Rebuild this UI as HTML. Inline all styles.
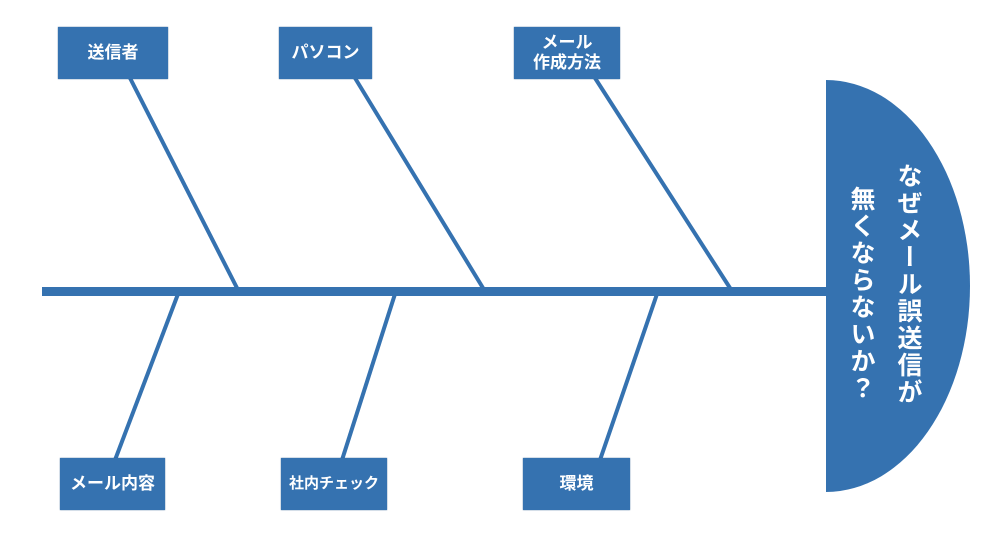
<!DOCTYPE html>
<html><head><meta charset="utf-8"><style>
body{margin:0;background:#fff;width:1000px;height:556px;position:relative;overflow:hidden;font-family:"Liberation Sans","Noto Sans CJK JP",sans-serif;}
.b{position:absolute;background:#3572b0;color:#fff;font-weight:bold;font-size:17px;display:flex;align-items:center;justify-content:center;text-align:center;line-height:20px;box-shadow:0 0 1px #24558a;}
.v{position:absolute;writing-mode:vertical-rl;color:#fff;font-weight:bold;font-size:25px;line-height:30px;letter-spacing:2px;}
</style></head><body>
<svg width="1000" height="556" style="position:absolute;left:0;top:0">
<g stroke="#3572b0" stroke-width="4">
<line x1="130" y1="78" x2="237" y2="288"/>
<line x1="355" y1="78" x2="483" y2="288"/>
<line x1="595" y1="78" x2="730" y2="288"/>
<line x1="178" y1="294" x2="115" y2="460"/>
<line x1="395" y1="294" x2="342" y2="460"/>
<line x1="657" y1="294" x2="600" y2="460"/>
</g>
<rect x="42" y="287" width="786" height="9" fill="#3572b0"/>
<path d="M826,80 A144,206 0 0 1 826,492 Z" fill="#3572b0"/>
</svg>
<div class="b" style="left:58px;top:27px;width:110px;height:52px">送信者</div>
<div class="b" style="left:279px;top:27px;width:93px;height:52px">パソコン</div>
<div class="b" style="left:514px;top:27px;width:106px;height:52px">メール<br>作成方法</div>
<div class="b" style="left:60px;top:458px;width:105px;height:52px">メール内容</div>
<div class="b" style="left:281px;top:458px;width:106px;height:52px;font-size:15px">社内チェック</div>
<div class="b" style="left:523px;top:458px;width:107px;height:52px">環境</div>
<div class="v" style="left:893px;top:163px">なぜメール誤送信が</div>
<div class="v" style="left:846px;top:186px">無くならないか？</div>
</body></html>
